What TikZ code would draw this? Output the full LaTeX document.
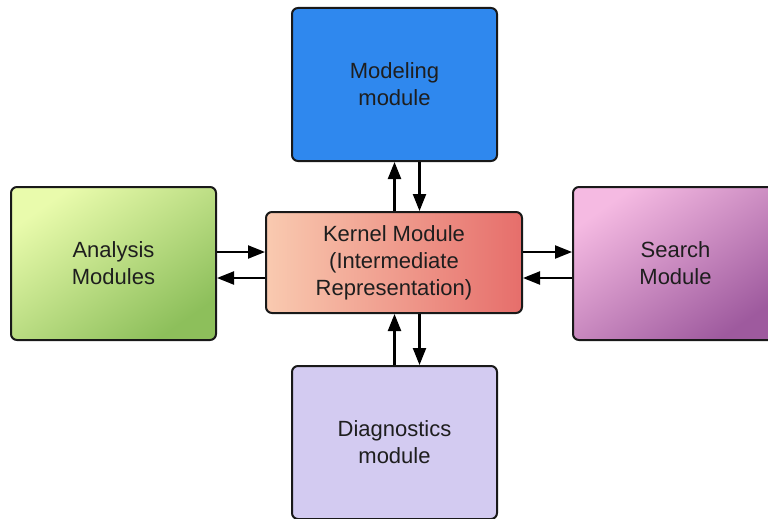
\documentclass[tikz,border=0pt]{standalone}
\usepackage{fontspec}
\setmainfont{Liberation Sans}
\usetikzlibrary{arrows.meta,calc}
\definecolor{txt}{HTML}{1E1E1E}
\definecolor{modfill}{HTML}{2F88EE}
\definecolor{diagfill}{HTML}{D3CBF1}
\definecolor{anaA}{HTML}{E9FBAC}
\definecolor{anaB}{HTML}{8DBF5B}
\definecolor{kerA}{HTML}{F9CAB0}
\definecolor{kerB}{HTML}{E66E6B}
\definecolor{seaA}{HTML}{F5BAE2}
\definecolor{seaB}{HTML}{9E5A9E}
\tikzset{
  box/.style={draw=black!90, line width=2pt, rounded corners=6pt, align=center,
    text=txt, font=\fontsize{22}{27}\selectfont, inner sep=0pt},
  bigbox/.style={box, minimum width=205pt, minimum height=153pt},
  arr/.style={line width=2.2pt, -{Triangle[length=17pt,width=13pt]}}
}
\begin{document}
\begin{tikzpicture}[x=1pt,y=-1pt]
\useasboundingbox (0,0) rectangle (768,519);
\clip (0,0) rectangle (768,519);
\node[bigbox, fill=modfill] (model) at (394.5,84.5) {Modeling\\module};
\node[bigbox, left color=anaA, right color=anaB, shading angle=35] (ana) at (113.5,263.5) {Analysis\\Modules};
\node[bigbox, left color=seaA, right color=seaB, shading angle=35] (sea) at (675.5,263.5) {Search\\Module};
\node[bigbox, fill=diagfill] (diag) at (394.5,442.5) {Diagnostics\\module};
\node[box, minimum width=256pt, minimum height=101pt, left color=kerA, right color=kerB] (ker) at (394,262.5) {Kernel Module\\(Intermediate\\Representation)};
% top
\draw[arr] (ker.north -| model.south) -- (model.south);
\draw[arr] ([xshift=25pt]model.south) -- ([xshift=25pt]ker.north -| model.south);
% bottom
\draw[arr] (diag.north) -- (ker.south -| diag.north);
\draw[arr] ([xshift=25pt]ker.south -| diag.north) -- ([xshift=25pt]diag.north);
% left
\draw[arr] ([yshift=10.5pt]ana.east |- ker.center) -- ([yshift=10.5pt]ker.west);
\draw[arr] ([yshift=-15.5pt]ker.west) -- ([yshift=-15.5pt]ana.east |- ker.center);
% right
\draw[arr] ([yshift=10.5pt]ker.east) -- ([yshift=10.5pt]sea.west |- ker.center);
\draw[arr] ([yshift=-15.5pt]sea.west |- ker.center) -- ([yshift=-15.5pt]ker.east);
\end{tikzpicture}
\end{document}
